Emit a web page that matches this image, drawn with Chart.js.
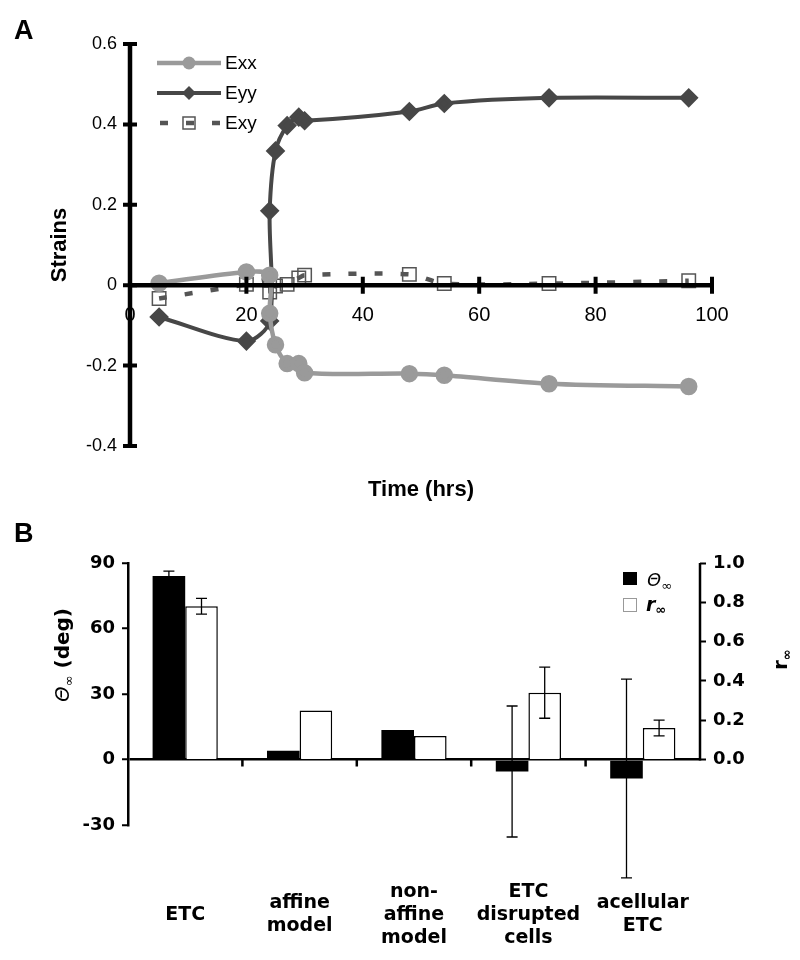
<!DOCTYPE html>
<html>
<head>
<meta charset="utf-8">
<script src="https://cdn.jsdelivr.net/npm/chart.js@4.4.0/dist/chart.umd.min.js"></script>
<style>
html, body { margin: 0; padding: 0; background: #fff; }
#caixaA { position: absolute; left: 0; top: 0; width: 800px; height: 515px; }
#caixaB { position: absolute; left: 0; top: 515px; width: 800px; height: 445px; }
</style>
</head>
<body>
<div id="caixaA"><canvas id="graficoA" width="800" height="515"></canvas></div>
<div id="caixaB"><canvas id="graficoB" width="800" height="445"></canvas></div>
<script>
// painel A: deformações ao longo do tempo
const horas = [5, 20, 24, 24, 25, 27, 29, 30, 48, 54, 72, 96];
const exx = [0.005, 0.033, 0.025, -0.07, -0.148, -0.195, -0.195, -0.218, -0.22, -0.224, -0.245, -0.252];
const eyy = [-0.079, -0.139, -0.089, 0.185, 0.334, 0.397, 0.418, 0.409, 0.432, 0.452, 0.466, 0.466];
const exy = [-0.033, 0.002, 0.012, -0.017, -0.002, 0.002, 0.018, 0.025, 0.027, 0.004, 0.004, 0.011];
const ticksTempo = [0, 20, 40, 60, 80, 100];
const ticksStrain = [-0.4, -0.2, 0, 0.2, 0.4, 0.6];

// painel B: ângulo e r no infinito
const grupos = [["ETC"], ["affine", "model"], ["non-", "affine", "model"], ["ETC", "disrupted", "cells"], ["acellular", "ETC"]];
const theta = [84, 4, 13.5, -5.5, -8.7];
const thetaErr = [2.3, 0, 0, 30, 45.5];
const rInf = [0.78, 0.25, 0.12, 0.34, 0.16];
const rErr = [0.04, 0, 0, 0.13, 0.04];
const ticksTheta = [-30, 0, 30, 60, 90];
const ticksR = [0, 0.2, 0.4, 0.6, 0.8, 1.0];

const FONTE_A = "'Liberation Sans', Arial, sans-serif";
const FONTE_B = "'DejaVu Sans', Verdana, sans-serif";

function pontos(ys) {
    return horas.map((h, i) => ({ x: h, y: ys[i] }));
}

function textoComIndice(ctx, partes, x, y, rot, centro) {
    ctx.save();
    ctx.translate(x, y);
    if (rot) ctx.rotate(rot);
    let total = 0;
    partes.forEach(p => { ctx.font = p.font; p.w = ctx.measureText(p.t).width; total += p.w; });
    let px = centro ? -total / 2 : 0;
    ctx.textAlign = "left";
    ctx.textBaseline = "alphabetic";
    ctx.fillStyle = "#000";
    partes.forEach(p => { ctx.font = p.font; ctx.fillText(p.t, px, p.dy || 0); px += p.w; });
    ctx.restore();
}

function marcador(ctx, estilo, x, y, r, cor) {
    ctx.save();
    if (estilo === "circle") {
        ctx.fillStyle = cor;
        ctx.beginPath(); ctx.arc(x, y, r, 0, Math.PI * 2); ctx.fill();
    } else if (estilo === "rectRot") {
        ctx.fillStyle = cor;
        ctx.beginPath();
        ctx.moveTo(x, y - r); ctx.lineTo(x + r, y); ctx.lineTo(x, y + r); ctx.lineTo(x - r, y);
        ctx.closePath(); ctx.fill();
    } else {
        const s = r * Math.SQRT1_2;
        ctx.strokeStyle = cor; ctx.lineWidth = 1.5;
        ctx.strokeRect(x - s, y - s, 2 * s, 2 * s);
    }
    ctx.restore();
}

// eixos em cruz, títulos e legenda do painel A
const extrasA = {
    id: "extrasA",
    afterDraw(chart) {
        const ctx = chart.ctx;
        const ca = chart.chartArea;
        const xs = chart.scales.x, ys = chart.scales.y;
        const y0 = ys.getPixelForValue(0);
        const x0 = xs.getPixelForValue(0);

        ctx.save();
        ctx.strokeStyle = "#000";
        ctx.lineWidth = 4.5;
        ctx.beginPath();
        ctx.moveTo(ca.left, y0); ctx.lineTo(ca.right, y0);
        ctx.moveTo(x0, ca.top); ctx.lineTo(x0, ca.bottom);
        ctx.stroke();
        ctx.lineWidth = 4;
        ctx.beginPath();
        ticksTempo.forEach(t => {
            const px = xs.getPixelForValue(t);
            if (t !== 0) { ctx.moveTo(px, y0 - 8.5); ctx.lineTo(px, y0 + 8.5); }
        });
        ticksStrain.forEach(v => {
            const py = ys.getPixelForValue(v);
            ctx.moveTo(x0 - 7, py); ctx.lineTo(x0 + 7, py);
        });
        ctx.stroke();
        ctx.restore();

        // títulos
        ctx.save();
        ctx.fillStyle = "#000";
        ctx.font = "bold 27px " + FONTE_A;
        ctx.textAlign = "left"; ctx.textBaseline = "alphabetic";
        ctx.fillText("A", 14, 39);
        ctx.font = "bold 22px " + FONTE_A;
        ctx.textAlign = "center";
        ctx.fillText("Time (hrs)", (ca.left + ca.right) / 2, 496);
        ctx.translate(60, (ca.top + ca.bottom) / 2);
        ctx.rotate(-Math.PI / 2);
        ctx.textBaseline = "middle";
        ctx.fillText("Strains", 0, 0);
        ctx.restore();

        // legenda
        ctx.save();
        chart.data.datasets.forEach((ds, i) => {
            const ly = ca.top + 19 + i * 30;
            const la = ca.left + 27, lb = ca.left + 91, lm = (la + lb) / 2;
            ctx.strokeStyle = ds.borderColor;
            ctx.lineWidth = ds.borderWidth;
            ctx.beginPath();
            if (ds.borderDash) {
                ctx.setLineDash(ds.borderDash);
                ctx.moveTo(la + 3, ly); ctx.lineTo(lb - 1, ly);
            } else {
                ctx.setLineDash([]);
                ctx.moveTo(la, ly); ctx.lineTo(lb, ly);
            }
            ctx.stroke();
            ctx.setLineDash([]);
            marcador(ctx, ds.pointStyle, lm, ly, ds.pointStyle === "rect" ? 8.5 : ds.pointRadius, ds.pointBorderColor);
            ctx.fillStyle = "#000";
            ctx.font = "19px " + FONTE_A;
            ctx.textAlign = "left"; ctx.textBaseline = "middle";
            ctx.fillText(ds.label, lb + 4, ly + 1);
        });
        ctx.restore();
    }
};

new Chart(document.getElementById("graficoA"), {
    type: "line",
    data: {
        datasets: [
            {
                label: "Exx", data: pontos(exx),
                borderColor: "#9a9a9a", borderWidth: 4.5, tension: 0.3,
                pointStyle: "circle", pointRadius: 6.5,
                pointBackgroundColor: "#9a9a9a", pointBorderColor: "#9a9a9a"
            },
            {
                label: "Eyy", data: pontos(eyy),
                borderColor: "#474747", borderWidth: 4, tension: 0.3,
                pointStyle: "rectRot", pointRadius: 7,
                pointBackgroundColor: "#474747", pointBorderColor: "#474747"
            },
            {
                label: "Exy", data: pontos(exy),
                borderColor: "#555", borderWidth: 4.5, borderDash: [8, 18], tension: 0.3,
                pointStyle: "rect", pointRadius: 9.5, pointBorderWidth: 1.5,
                pointBackgroundColor: "rgba(0,0,0,0)", pointBorderColor: "#555"
            }
        ]
    },
    options: {
        responsive: false,
        animation: false,
        events: [],
        layout: { padding: { top: 44, right: 88, bottom: 69, left: 0 } },
        plugins: { legend: { display: false }, tooltip: { enabled: false } },
        scales: {
            x: {
                type: "linear", min: 0, max: 100, position: { y: 0 },
                afterBuildTicks: s => { s.ticks = ticksTempo.map(v => ({ value: v })); },
                grid: { display: false, drawTicks: false },
                border: { display: false },
                ticks: { color: "#000", font: { family: FONTE_A, size: 20 }, padding: 18 }
            },
            y: {
                type: "linear", min: -0.4, max: 0.6,
                afterBuildTicks: s => { s.ticks = ticksStrain.map(v => ({ value: v })); },
                afterFit: s => { s.width = 130; },
                grid: { display: false, drawTicks: false },
                border: { display: false },
                ticks: { color: "#000", font: { family: FONTE_A, size: 18 }, padding: 13 }
            }
        }
    },
    plugins: [extrasA]
});

// barras de erro, eixo direito, títulos e legenda do painel B
const extrasB = {
    id: "extrasB",
    afterDatasetsDraw(chart) {
        const ctx = chart.ctx;
        ctx.save();
        ctx.strokeStyle = "#000";
        ctx.lineWidth = 1.3;
        chart.data.datasets.forEach((ds, di) => {
            const meta = chart.getDatasetMeta(di);
            const esc = chart.scales[ds.yAxisID];
            meta.data.forEach((el, j) => {
                const e = ds.err[j];
                if (!e) return;
                const yt = esc.getPixelForValue(ds.data[j] + e);
                const yb = esc.getPixelForValue(ds.data[j] - e);
                ctx.beginPath();
                ctx.moveTo(el.x, yt); ctx.lineTo(el.x, yb);
                ctx.moveTo(el.x - 5.5, yt); ctx.lineTo(el.x + 5.5, yt);
                ctx.moveTo(el.x - 5.5, yb); ctx.lineTo(el.x + 5.5, yb);
                ctx.stroke();
            });
        });
        ctx.restore();
    },
    afterDraw(chart) {
        const ctx = chart.ctx;
        const xs = chart.scales.x, ys = chart.scales.y, yr = chart.scales.y1;
        const y0 = ys.getPixelForValue(0);
        ctx.save();
        ctx.strokeStyle = "#000";
        ctx.lineWidth = 2.5;
        ctx.beginPath();
        ctx.moveTo(yr.left, yr.getPixelForValue(0) + 1);
        ctx.lineTo(yr.left, yr.getPixelForValue(1));
        for (let i = 1; i < grupos.length; i++) {
            const px = (xs.getPixelForValue(i - 1) + xs.getPixelForValue(i)) / 2;
            ctx.moveTo(px, y0); ctx.lineTo(px, y0 + 7);
        }
        ctx.stroke();
        ctx.restore();

        ctx.save();
        ctx.fillStyle = "#000";
        ctx.font = "bold 27px " + FONTE_A;
        ctx.textAlign = "left"; ctx.textBaseline = "alphabetic";
        ctx.fillText("B", 14, 27);
        ctx.restore();

        textoComIndice(ctx, [
            { t: "\u0398", font: "italic 20px " + FONTE_B },
            { t: "\u221e", font: "13px " + FONTE_B, dy: 4 },
            { t: " (deg)", font: "bold 20px " + FONTE_B }
        ], 69, 140, -Math.PI / 2, true);

        textoComIndice(ctx, [
            { t: "r", font: "bold 20px " + FONTE_B },
            { t: "\u221e", font: "bold 13px " + FONTE_B, dy: 4 }
        ], 787, 155, -Math.PI / 2, false);

        // legenda
        ctx.save();
        ctx.fillStyle = "#000";
        ctx.fillRect(623, 57, 14, 13);
        ctx.fillStyle = "#fff";
        ctx.fillRect(623, 83, 14, 14);
        ctx.strokeStyle = "#999";
        ctx.lineWidth = 1;
        ctx.strokeRect(623.5, 83.5, 13, 13);
        ctx.restore();
        textoComIndice(ctx, [
            { t: "\u0398", font: "italic 18px " + FONTE_B },
            { t: "\u221e", font: "13px " + FONTE_B, dy: 4 }
        ], 647, 71, 0, false);
        textoComIndice(ctx, [
            { t: "r", font: "italic bold 19px " + FONTE_B },
            { t: "\u221e", font: "bold 13px " + FONTE_B, dy: 3 }
        ], 646, 96, 0, false);
    }
};

new Chart(document.getElementById("graficoB"), {
    type: "bar",
    data: {
        labels: grupos,
        datasets: [
            {
                label: "\u0398\u221e", data: theta, err: thetaErr, yAxisID: "y",
                backgroundColor: "#000", borderColor: "#000", borderWidth: 0
            },
            {
                label: "r\u221e", data: rInf, err: rErr, yAxisID: "y1",
                backgroundColor: "#fff", borderColor: "#000", borderWidth: 1.5
            }
        ]
    },
    options: {
        responsive: false,
        animation: false,
        events: [],
        layout: { padding: { top: 48, right: 0, bottom: 0, left: 0 } },
        datasets: { bar: { categoryPercentage: 0.57, barPercentage: 1 } },
        plugins: { legend: { display: false }, tooltip: { enabled: false } },
        scales: {
            x: {
                position: "bottom",
                afterFit: s => { s.height = 135; },
                grid: { display: false, drawTicks: false },
                border: { display: false },
                ticks: {
                    color: "#000", font: { family: FONTE_B, size: 19, weight: "bold" },
                    padding: 67, crossAlign: "center", maxRotation: 0, autoSkip: false
                }
            },
            y: {
                position: "left", min: -30, max: 90,
                afterBuildTicks: s => { s.ticks = ticksTheta.map(v => ({ value: v })); },
                afterFit: s => { s.width = 128; },
                grid: {
                    color: c => (c.tick && c.tick.value === 0) ? "#000" : "rgba(0,0,0,0)",
                    lineWidth: 2.5, tickColor: "#000", tickLength: 6, tickWidth: 2
                },
                border: { color: "#000", width: 2.5 },
                ticks: { color: "#000", font: { family: FONTE_B, size: 18, weight: "bold" }, padding: 7 }
            },
            y1: {
                position: "right", min: -1 / 3, max: 1,
                afterBuildTicks: s => { s.ticks = ticksR.map(v => ({ value: v })); },
                afterFit: s => { s.width = 100; },
                grid: { drawOnChartArea: false, tickColor: "#000", tickLength: 6, tickWidth: 2 },
                border: { display: false },
                ticks: {
                    color: "#000", font: { family: FONTE_B, size: 18, weight: "bold" }, padding: 7,
                    callback: v => v.toFixed(1)
                }
            }
        }
    },
    plugins: [extrasB]
});
</script>
</body>
</html>
